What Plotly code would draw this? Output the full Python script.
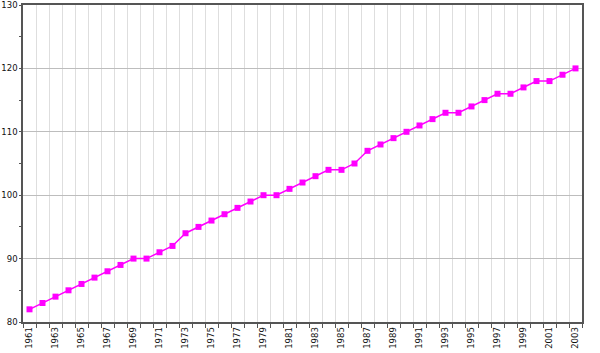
import plotly.graph_objects as go

years = list(range(1961, 2004))
values = [82, 83, 84, 85, 86, 87, 88, 89, 90, 90, 91, 92, 94, 95, 96, 97, 98, 99, 100, 100,
          101, 102, 103, 104, 104, 105, 107, 108, 109, 110, 111, 112, 113, 113, 114, 115, 116,
          116, 117, 118, 118, 119, 120]
x_labels = [str(y) for y in range(1961, 2004, 2)]
y_ticks = [80, 90, 100, 110, 120, 130]

fig = go.Figure()
fig.add_trace(go.Scatter(
    x=years, y=values, mode="lines+markers",
    line=dict(color="#ff00ff", width=1.5),
    marker=dict(symbol="square", size=6, color="#ff00ff"),
    showlegend=False, cliponaxis=False,
))

fig.update_layout(
    width=600, height=353,
    margin=dict(l=23, r=18, t=5, b=31, autoexpand=False),
    paper_bgcolor="white", plot_bgcolor="white",
    font=dict(family="DejaVu Sans", size=8.5, color="#111"),
    xaxis=dict(
        range=[1960.5, 2003.5], tickmode="array",
        tickvals=list(range(1961, 2004, 2)), ticktext=x_labels,
        tickangle=-90, ticks="", showgrid=False, zeroline=False,
        showline=True, linecolor="#555", linewidth=1.5, mirror=True,
        automargin=False, ticklabeloverflow="allow",
        minor=dict(tickmode="linear", tick0=1960.5, dtick=1, ticks="outside",
                   ticklen=4, tickcolor="#555", showgrid=True,
                   gridcolor="#dedede", gridwidth=1),
    ),
    yaxis=dict(
        range=[80, 130], tickmode="array", tickvals=y_ticks,
        ticks="outside", ticklen=2, tickcolor="#555",
        showgrid=True, gridcolor="#bdbdbd", gridwidth=1, zeroline=False,
        showline=True, linecolor="#555", linewidth=1.5, mirror=True,
        automargin=False, ticklabeloverflow="allow",
        minor=dict(tickmode="linear", tick0=80, dtick=5, ticks="outside",
                   ticklen=2, tickcolor="#555", showgrid=False),
    ),
)

fig.write_html("out.html")
